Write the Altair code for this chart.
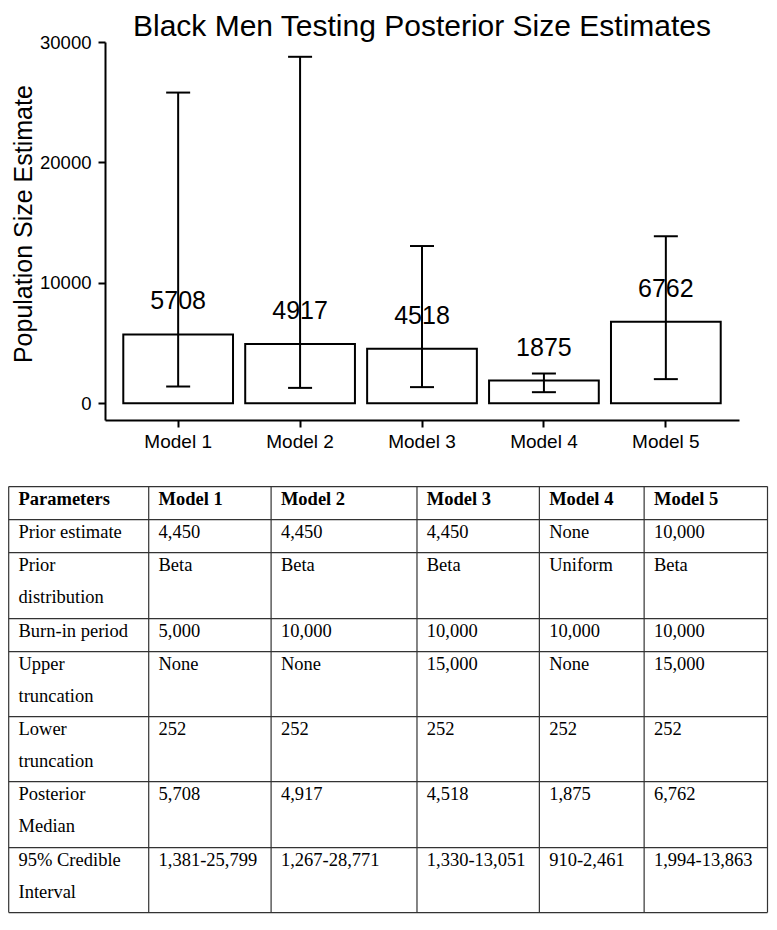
import altair as alt
import pandas as pd

# ---------------- data ----------------
models = ["Model 1", "Model 2", "Model 3", "Model 4", "Model 5"]
medians = [5708, 4917, 4518, 1875, 6762]
ci_low = [1381, 1267, 1330, 910, 1994]
ci_high = [25799, 28771, 13051, 2461, 13863]
y_ticks = [0, 10000, 20000, 30000]

table_header = ["Parameters", "Model 1", "Model 2", "Model 3", "Model 4", "Model 5"]
row_labels = ["Prior estimate", "Prior\ndistribution", "Burn-in period", "Upper\ntruncation",
              "Lower\ntruncation", "Posterior\nMedian", "95% Credible\nInterval"]
prior_estimate = ["4,450", "4,450", "4,450", "None", "10,000"]
prior_distribution = ["Beta", "Beta", "Beta", "Uniform", "Beta"]
burn_in = ["5,000", "10,000", "10,000", "10,000", "10,000"]
upper_truncation = ["None", "None", "15,000", "None", "15,000"]
lower_truncation = ["252", "252", "252", "252", "252"]
posterior_median = ["5,708", "4,917", "4,518", "1,875", "6,762"]
credible_interval = ["1,381-25,799", "1,267-28,771", "1,330-13,051", "910-2,461", "1,994-13,863"]
table_rows = [prior_estimate, prior_distribution, burn_in, upper_truncation,
              lower_truncation, posterior_median, credible_interval]

# ---------------- layout (table grid in reference units) ----------------
col_edges = [1, 144, 269, 418, 543, 650, 776]
row_edges = [490, 524, 558, 626, 660, 727, 794, 862, 929]
TEXT_PAD_X = 10
TEXT_BASE_Y = 19

PLOT_W, PLOT_H = 634, 378
# where the table should sit, in plot-area pixels
TX0, TX1 = -96.3, 662.5
TY0, TY1 = 444.6, 870.6

sx = (TX1 - TX0) / (col_edges[-1] - col_edges[0])
xa = col_edges[0] - TX0 / sx
xb = xa + PLOT_W / sx
sy = (TY1 - TY0) / (row_edges[-1] - row_edges[0])
yc = row_edges[0] - TY0 / sy
yd = yc + PLOT_H / sy

FONT = "Liberation Sans"
SERIF = "Liberation Serif"

# ---------------- bar chart ----------------
bar_df = pd.DataFrame({"model": models, "median": medians, "low": ci_low, "high": ci_high})

x_enc = alt.X("model:N", title=None,
              scale=alt.Scale(domain=models, paddingInner=0.1, paddingOuter=0.15),
              axis=alt.Axis(labelAngle=0, labelFontSize=19, labelFont=FONT, labelColor="black",
                            labelPadding=5, tickSize=7, tickWidth=2, tickColor="black",
                            domainColor="black", domainWidth=2, grid=False))
y_scale = alt.Scale(domain=[-1401, 30000], nice=False, zero=False)
y_axis = alt.Axis(values=y_ticks, format="d", labelFontSize=18.5, labelFont=FONT,
                  labelColor="black", labelPadding=7, tickSize=7, tickWidth=2,
                  tickColor="black", domainColor="black", domainWidth=2, grid=False,
                  title="Population Size Estimate", titleFontSize=25, titleFont=FONT,
                  titleFontWeight="normal", titleColor="black", titleX=-69, titleY=181.6)

base = alt.Chart(bar_df).encode(x=x_enc)

bars = base.mark_bar(fill="white", stroke="black", strokeWidth=2, opacity=1).encode(
    y=alt.Y("median:Q", scale=y_scale, axis=y_axis), y2=alt.datum(0))
labels = base.mark_text(font=FONT, fontSize=25, baseline="alphabetic", dy=-25,
                        color="black").encode(
    y=alt.Y("median:Q", scale=y_scale, axis=y_axis), text=alt.Text("median:Q", format="d"))
err = base.mark_rule(color="black", strokeWidth=2, opacity=1).encode(
    y=alt.Y("low:Q", scale=y_scale, axis=y_axis), y2="high:Q")
cap_low = base.mark_tick(color="black", thickness=2, size=24, opacity=1).encode(
    y=alt.Y("low:Q", scale=y_scale, axis=y_axis))
cap_high = base.mark_tick(color="black", thickness=2, size=24, opacity=1).encode(
    y=alt.Y("high:Q", scale=y_scale, axis=y_axis))

bar_layer = alt.layer(bars, labels, err, cap_low, cap_high)

# ---------------- table ----------------
tx_scale = alt.Scale(domain=[xa, xb], nice=False, zero=False)
ty_scale = alt.Scale(domain=[yc, yd], nice=False, zero=False, reverse=True)

hlines = pd.DataFrame({"y": row_edges, "x": [col_edges[0]] * len(row_edges),
                       "x2": [col_edges[-1]] * len(row_edges)})
vlines = pd.DataFrame({"x": col_edges, "y": [row_edges[0]] * len(col_edges),
                       "y2": [row_edges[-1]] * len(col_edges)})

head_df = pd.DataFrame({"x": [c + TEXT_PAD_X for c in col_edges[:-1]],
                        "y": [row_edges[0] + TEXT_BASE_Y] * len(table_header),
                        "text": table_header})
body_recs = []
for i, (lab, vals) in enumerate(zip(row_labels, table_rows)):
    cells = [lab] + vals
    for j, t in enumerate(cells):
        body_recs.append({"x": col_edges[j] + TEXT_PAD_X,
                          "y": row_edges[i + 1] + TEXT_BASE_Y, "text": t})
body_df = pd.DataFrame(body_recs)

LINE_COLOR = "#333333"
h_rules = alt.Chart(hlines).mark_rule(color=LINE_COLOR, strokeWidth=1.2).encode(
    x=alt.X("x:Q", scale=tx_scale, axis=None), x2="x2:Q",
    y=alt.Y("y:Q", scale=ty_scale, axis=None))
v_rules = alt.Chart(vlines).mark_rule(color=LINE_COLOR, strokeWidth=1.2).encode(
    x=alt.X("x:Q", scale=tx_scale, axis=None),
    y=alt.Y("y:Q", scale=ty_scale, axis=None), y2="y2:Q")
head_text = alt.Chart(head_df).mark_text(font=SERIF, fontSize=18.5, fontWeight="bold",
                                         align="left", baseline="alphabetic",
                                         color="black").encode(
    x=alt.X("x:Q", scale=tx_scale, axis=None),
    y=alt.Y("y:Q", scale=ty_scale, axis=None), text="text:N")
body_text = alt.Chart(body_df).mark_text(font=SERIF, fontSize=18.5, align="left",
                                         baseline="alphabetic", lineBreak="\n",
                                         lineHeight=32, color="black").encode(
    x=alt.X("x:Q", scale=tx_scale, axis=None),
    y=alt.Y("y:Q", scale=ty_scale, axis=None), text="text:N")

table_layer = alt.layer(h_rules, v_rules, head_text, body_text)

chart = alt.layer(bar_layer, table_layer).resolve_scale(
    x="independent", y="independent"
).properties(
    width=PLOT_W, height=PLOT_H, background="white",
    padding={"top": 4, "left": 0, "right": 0, "bottom": 0},
    title=alt.TitleParams("Black Men Testing Posterior Size Estimates", fontSize=30,
                          font=FONT, fontWeight="normal", color="black",
                          anchor="middle", frame="group", offset=-9),
).configure_view(stroke="transparent", strokeWidth=0)

chart.save("out.html", embed_options={"renderer": "svg", "actions": False})
